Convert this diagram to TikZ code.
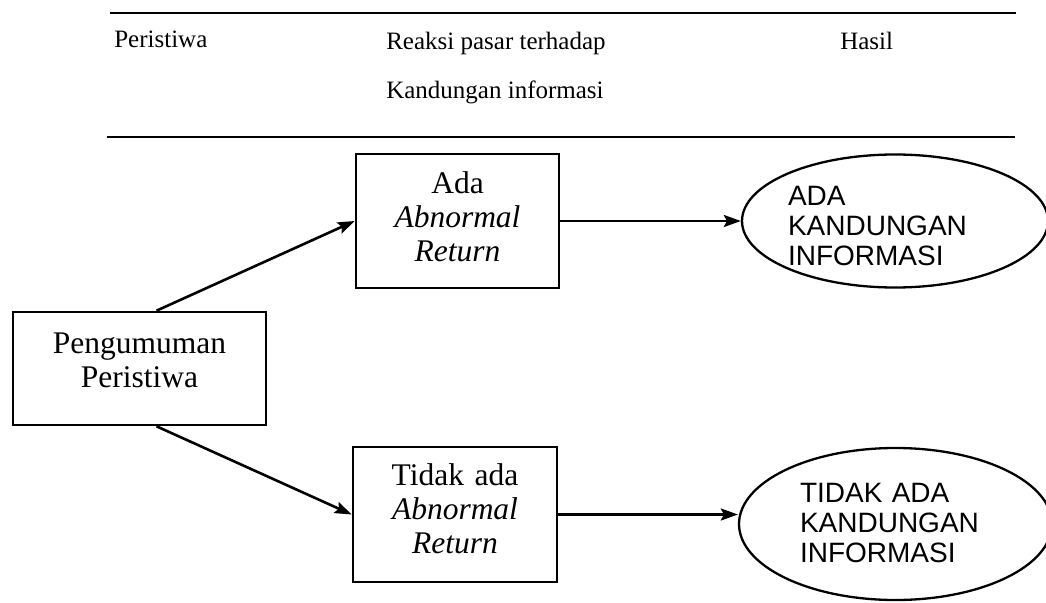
\documentclass[tikz,border=0pt]{standalone}
\usepackage{fontspec}
\setmainfont{Liberation Serif}
\newfontfamily\ovalfont{Liberation Sans}
\usetikzlibrary{arrows.meta,shapes.geometric}

\begin{document}
\begin{tikzpicture}[x=1pt,y=-1pt,->,>={Stealth[length=17pt,width=12pt,inset=3pt]},line width=2.6pt,
    head node/.style={anchor=base west,inner sep=0pt,font=\fontsize{25}{30}\selectfont},
    box node/.style={rectangle,draw,inner sep=0pt,align=center,text height=20pt,font=\fontsize{31.5}{34}\selectfont},
    oval node/.style={ellipse,draw,line width=2.3pt,inner sep=0pt,align=left,text height=20pt,font=\ovalfont\fontsize{28}{30}\selectfont}]

                    \useasboundingbox (0,0) rectangle (1046,602);

                    % header
                    \draw[-] (110,13) -- (1016,13);
                    \draw[-] (107,137) -- (1015,137);
                    \node[head node] (a) at (113,48) {Peristiwa};
                    \node[head node] (b) at (385,50) {Reaksi pasar terhadap};
                    \node[head node] (c) at (839,50) {Hasil};
                    \node[head node] (d) at (385,98) {Kandungan informasi};

                    \node[box node, minimum width=253pt, minimum height=113pt, text width=240pt, text depth=51pt] (1) at (139.5,368.5) {Pengumuman\\Peristiwa};
                    \node[box node, minimum width=203pt, minimum height=134pt, text width=190pt, text depth=76pt] (2) at (457.5,221) {Ada\\\textit{Abnormal}\\\textit{Return}};
                    \node[box node, minimum width=204pt, minimum height=135pt, text width=190pt, text depth=79pt] (3) at (455,514.5) {Tidak ada\\\textit{Abnormal}\\\textit{Return}};
                    \node[oval node, minimum width=306pt, minimum height=133pt, text width=214pt, text depth=51pt] (4) [node distance=437.5pt, right of = 2] {ADA\\KANDUNGAN\\INFORMASI};
                    \node[oval node, minimum width=313pt, minimum height=152pt, text width=191pt, text depth=64pt] (5) [node distance=440.5pt, right of = 3, yshift=-9.5pt] {TIDAK ADA\\KANDUNGAN\\INFORMASI};

                    \draw ([xshift=17pt]1.north) to (2.west);
                    \draw ([xshift=17pt]1.south) to (3.west);
                    \draw (2.east) to (4.west);
                    \draw (3.east) to (3.east -| 5.west);

                    ;
                \end{tikzpicture}
\end{document}
